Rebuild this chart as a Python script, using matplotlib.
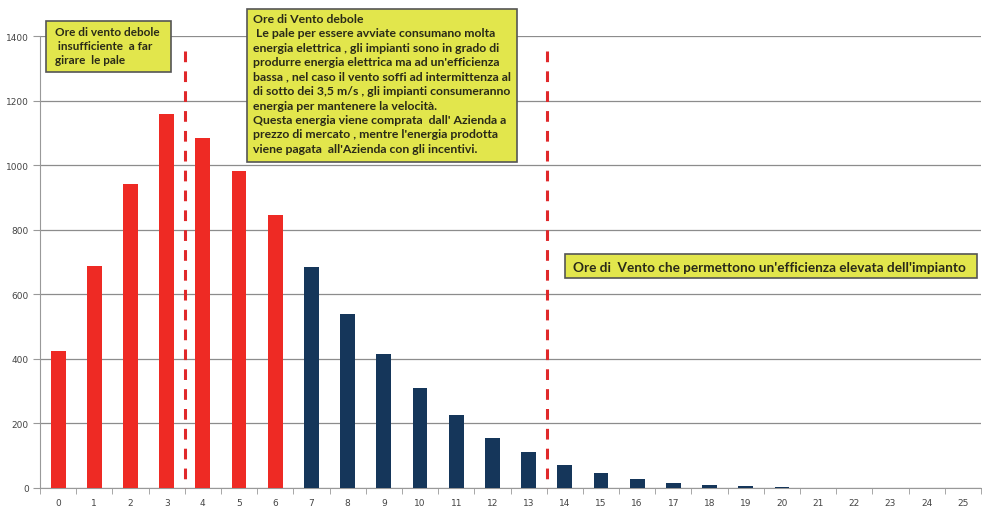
import matplotlib
matplotlib.use('Agg')
import matplotlib.pyplot as plt
from matplotlib.patches import Rectangle
import numpy as np

# ore di vento per velocita' (m/s)
velocita = list(range(26))
ore = [424, 687, 941, 1158, 1084, 982, 845, 684, 539, 415, 310, 225, 156, 110,
       70, 46, 27, 16, 8, 5, 2, 0, 0, 0, 0, 0]
soglia_rossa = 7          # prime 7 classi in rosso
linee_soglia = [3.5, 13.5]

testo1 = "Ore di vento debole\n insufficiente  a far\ngirare  le pale"
testo2 = ("Ore di Vento debole\n"
          " Le pale per essere avviate consumano molta\n"
          "energia elettrica , gli impianti sono in grado di\n"
          "produrre energia elettrica ma ad un'efficienza\n"
          "bassa , nel caso il vento soffi ad intermittenza al\n"
          "di sotto dei 3,5 m/s , gli impianti consumeranno\n"
          "energia per mantenere la velocità.\n"
          "Questa energia viene comprata  dall' Azienda a\n"
          "prezzo di mercato , mentre l'energia prodotta\n"
          "viene pagata  all'Azienda con gli incentivi.")
testo3 = "Ore di  Vento che permettono un'efficienza elevata dell'impianto"

W, H = 982, 510
fig = plt.figure(figsize=(W / 100, H / 100), dpi=100)
ax = fig.add_axes([40 / W, 1 - 489 / H, 941 / W, (489 - 37) / H])

colori = ['#ee2a24' if i < soglia_rossa else '#15365a' for i in velocita]
ax.bar(velocita, ore, width=0.41, color=colori, zorder=3)

for xv in linee_soglia:
    ax.plot([xv, xv], [1355, 0], color='#e0282a', lw=2.2, ls=(0, (3.5, 3)),
            zorder=4, clip_on=False)

ax.set_xlim(-0.5, 25.5)
ax.set_ylim(0, 1400)
ax.set_yticks(np.arange(0, 1401, 200))
ax.set_xticks(velocita)
ax.set_xticks(np.arange(-0.5, 25.6, 1), minor=True)
ax.tick_params(axis='x', which='major', length=0, pad=7, labelsize=6.5, labelcolor='#444444')
ax.tick_params(axis='x', which='minor', length=4, color='#999999', direction='out')
ax.tick_params(axis='y', length=5, color='#999999', labelsize=6.5, labelcolor='#444444', pad=3)
ax.grid(axis='y', color='#8c8c8c', lw=0.9, zorder=0)
for s in ['top', 'right']:
    ax.spines[s].set_visible(False)
ax.spines['left'].set_color('#999999')
ax.spines['bottom'].set_color('#999999')

box_col = '#e2e64c'
fnt = dict(family=['Lato', 'DejaVu Sans'], weight='bold', color='#2a2a18')

def riquadro(x0, y0, x1, y1, testo, tx, ty, size, ls=1.2, va='top'):
    fig.patches.append(Rectangle((x0 / W, 1 - y1 / H), (x1 - x0) / W, (y1 - y0) / H,
                                 transform=fig.transFigure, facecolor=box_col,
                                 edgecolor='#555555', lw=1.2, zorder=5))
    fig.text(tx / W, 1 - ty / H, testo, va=va, ha='left', fontsize=size,
             linespacing=ls, zorder=6, **fnt)

riquadro(46, 22, 171, 73, testo1, 55, 27, 8.5, ls=1.36)
riquadro(247, 10, 517, 163, testo2, 253, 14, 8.8, ls=1.38)
riquadro(565, 255, 977, 279, testo3, 573, 267.5, 9.8, va='center')

fig.savefig('out.png', dpi=100)
